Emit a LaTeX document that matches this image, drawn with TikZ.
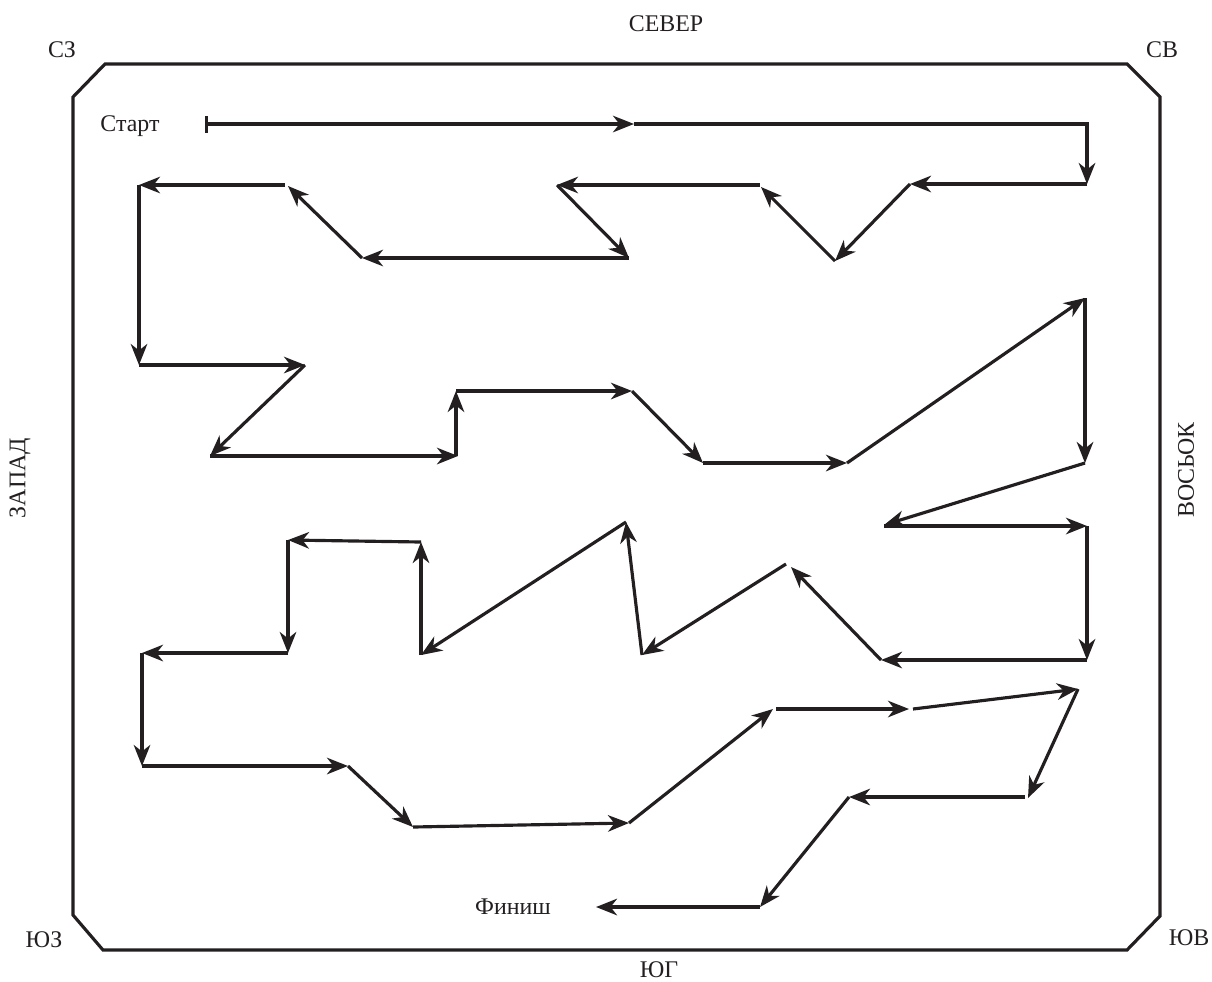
\documentclass[tikz,border=0pt]{standalone}
\usepackage{fontspec}
\setmainfont{Liberation Serif}
\usepackage{xcolor}
\usepackage{tikz}
\usetikzlibrary{arrows.meta}
\definecolor{mzink}{RGB}{35,31,32}
\tikzset{
mzframe/.style={draw=mzink,line width=1.8pt,line join=miter},
mzleg/.style={draw=mzink,line width=1.8pt,-{Stealth[length=4.2mm,width=3.3mm,inset=1.3mm]}},
mzfirst/.style={draw=mzink,line width=1.8pt,{Bar[width=3.4mm]}-{Stealth[length=4.2mm,width=3.3mm,inset=1.3mm]}},
mzlabel/.style={font=\fontsize{13.6}{16}\selectfont,text=mzink,inner sep=1pt},
mzside/.style={mzlabel,rotate=90}
}
\begin{document}
\begin{tikzpicture}[
x=0.02cm,
y=-0.02cm
]
\useasboundingbox (0,0) rectangle (1212,981);
% frame
\draw[mzframe] (105,64) -- (1127,64) -- (1160,97) -- (1160,916) -- (1127,950)
  -- (103,950) -- (73,915) -- (73,97) -- cycle;
% labels
\node[mzlabel] (north) at (666,24) {СЕВЕР};
\node[mzlabel] (south) at (659,970) {ЮГ};
\node[mzside] (west) at (20,478) {ЗАПАД};
\node[mzside] (east) at (1186,470) {ВОСЬОК};
\node[mzlabel] (nw) at (62,50) {СЗ};
\node[mzlabel] (ne) at (1162,50) {СВ};
\node[mzlabel] (sw) at (44,940) {ЮЗ};
\node[mzlabel] (se) at (1189,938) {ЮВ};
\node[mzlabel] (start) at (130,126) {Старт};
\node[mzlabel] (finish) at (513,907) {Финиш};
% way points
\coordinate (s0) at (205,124);
\coordinate (s1) at (634,124);
\coordinate (c1) at (1087,124);
\coordinate (p1) at (1087,184);
\coordinate (p2) at (910,184);
\coordinate (p3) at (835,261);
\coordinate (p4) at (761,187);
\coordinate (p4b) at (760,185);
\coordinate (p5) at (557,185);
\coordinate (p6) at (629,258);
\coordinate (p7) at (362,258);
\coordinate (p8) at (288,186);
\coordinate (p8b) at (285,185);
\coordinate (p9) at (139,185);
\coordinate (p10) at (139,365);
\coordinate (p11) at (305,365);
\coordinate (p12) at (210,456);
\coordinate (p13) at (458,456);
\coordinate (p13b) at (456,456);
\coordinate (p14) at (456,391);
\coordinate (p15) at (632,391);
\coordinate (p16) at (703,463);
\coordinate (p17) at (847,463);
\coordinate (p18) at (1085,298);
\coordinate (p19) at (1085,463);
\coordinate (p20) at (884,525);
\coordinate (p20b) at (884,526);
\coordinate (p21) at (1087,526);
\coordinate (p22) at (1087,660);
\coordinate (p23) at (881,660);
\coordinate (p24) at (791,567);
\coordinate (p24b) at (786,564);
\coordinate (p25) at (642,655);
\coordinate (p26) at (626,522);
\coordinate (p27) at (421,655);
\coordinate (p28) at (421,542);
\coordinate (p29) at (288,540);
\coordinate (p30) at (288,653);
\coordinate (p31) at (142,653);
\coordinate (p32) at (142,766);
\coordinate (p33) at (348,766);
\coordinate (p34) at (413,827);
\coordinate (p35) at (629,823);
\coordinate (p36) at (773,709);
\coordinate (p36b) at (776,709);
\coordinate (p37) at (909,709);
\coordinate (p37b) at (913,709);
\coordinate (p38) at (1078,689);
\coordinate (p39) at (1028,798);
\coordinate (p39b) at (1025,797);
\coordinate (p40) at (849,797);
\coordinate (p41) at (760,907);
\coordinate (p42) at (596,907);
% route
\draw[mzfirst] (s0) -- (s1);
\draw[mzleg] (s1) -- (c1) -- (p1);
\draw[mzleg] (p1) -- (p2);
\draw[mzleg] (p2) -- (p3);
\draw[mzleg] (p3) -- (p4);
\draw[mzleg] (p4b) -- (p5);
\draw[mzleg] (p5) -- (p6);
\draw[mzleg] (p6) -- (p7);
\draw[mzleg] (p7) -- (p8);
\draw[mzleg] (p8b) -- (p9);
\draw[mzleg] (p9) -- (p10);
\draw[mzleg] (p10) -- (p11);
\draw[mzleg] (p11) -- (p12);
\draw[mzleg] (p12) -- (p13);
\draw[mzleg] (p13b) -- (p14);
\draw[mzleg] (p14) -- (p15);
\draw[mzleg] (p15) -- (p16);
\draw[mzleg] (p16) -- (p17);
\draw[mzleg] (p17) -- (p18);
\draw[mzleg] (p18) -- (p19);
\draw[mzleg] (p19) -- (p20);
\draw[mzleg] (p20b) -- (p21);
\draw[mzleg] (p21) -- (p22);
\draw[mzleg] (p22) -- (p23);
\draw[mzleg] (p23) -- (p24);
\draw[mzleg] (p24b) -- (p25);
\draw[mzleg] (p25) -- (p26);
\draw[mzleg] (p26) -- (p27);
\draw[mzleg] (p27) -- (p28);
\draw[mzleg] (p28) -- (p29);
\draw[mzleg] (p29) -- (p30);
\draw[mzleg] (p30) -- (p31);
\draw[mzleg] (p31) -- (p32);
\draw[mzleg] (p32) -- (p33);
\draw[mzleg] (p33) -- (p34);
\draw[mzleg] (p34) -- (p35);
\draw[mzleg] (p35) -- (p36);
\draw[mzleg] (p36b) -- (p37);
\draw[mzleg] (p37b) -- (p38);
\draw[mzleg] (p38) -- (p39);
\draw[mzleg] (p39b) -- (p40);
\draw[mzleg] (p40) -- (p41);
\draw[mzleg] (p41) -- (p42);
\end{tikzpicture}
\end{document}
